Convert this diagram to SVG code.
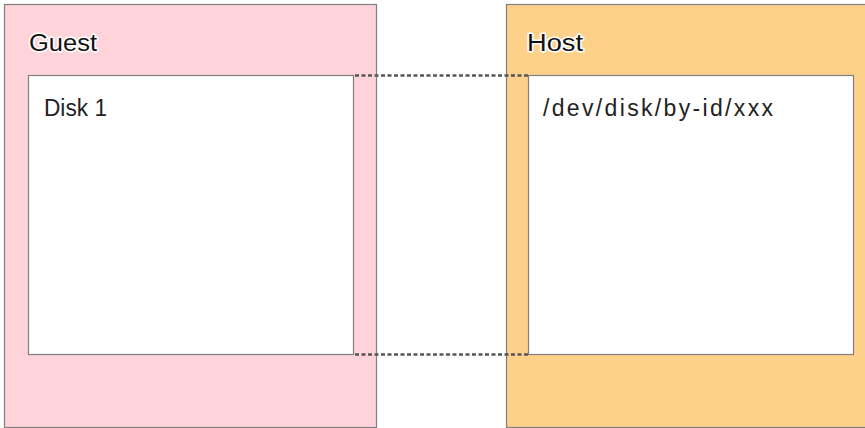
<svg xmlns="http://www.w3.org/2000/svg" width="865" height="428" viewBox="0 0 865 428">
<style>
.frame{stroke:#7f7f7f;stroke-width:1.2}
.inner{fill:#fff;stroke:#7f7f7f;stroke-width:1.2}
.title{font-family:"Liberation Sans",Arial,sans-serif;font-size:23px;fill:#111;stroke:#fff;stroke-width:3;paint-order:stroke;stroke-linejoin:round}
.label{font-family:"Liberation Sans",Arial,sans-serif;font-size:23px;fill:#222}
.conn{stroke:#555;stroke-width:2.5;stroke-dasharray:4 2.5;fill:none}
</style>
<rect width="865" height="428" fill="#fff"/>
<g id="guest">
<rect class="frame" x="4.5" y="4.5" width="372" height="423" fill="#ffd3da"/>
<text class="title" x="29" y="51" textLength="68" lengthAdjust="spacingAndGlyphs">Guest</text>
</g>
<g id="host">
<rect class="frame" x="506.5" y="4.5" width="365" height="423" fill="#fdd18a"/>
<text class="title" x="527" y="51" textLength="56" lengthAdjust="spacingAndGlyphs">Host</text>
</g>
<g id="disk1">
<rect class="inner" x="28.5" y="75.5" width="325" height="279"/>
<text class="label" x="44" y="116" textLength="63" lengthAdjust="spacingAndGlyphs">Disk 1</text>
</g>
<g id="hostdisk">
<rect class="inner" x="528.5" y="75.5" width="325" height="279"/>
<text class="label" x="543" y="116" textLength="230" lengthAdjust="spacing">/dev/disk/by-id/xxx</text>
</g>
<g id="connectors">
<line class="conn" x1="355" y1="75.5" x2="528" y2="75.5"/>
<line class="conn" x1="355" y1="354.5" x2="528" y2="354.5"/>
</g>
</svg>
